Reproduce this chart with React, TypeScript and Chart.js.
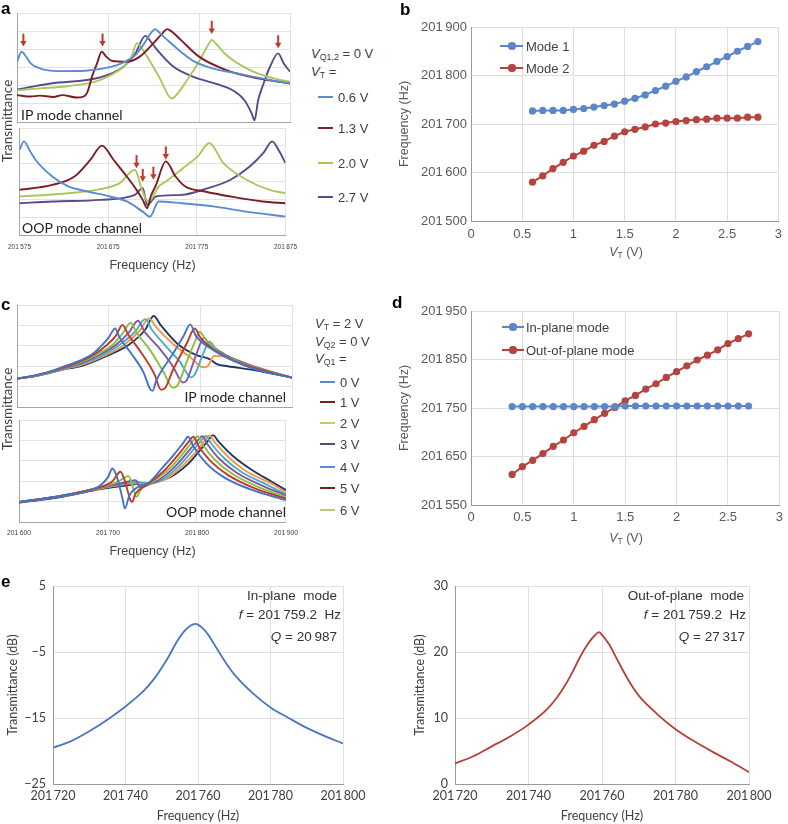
import React, { useEffect, useRef } from "react";
import { Chart, registerables } from "chart.js";

Chart.register(...registerables);

// ---------------- DATA ----------------
// Panel a — IP mode channel, [frequency (Hz), transmittance (a.u.)]
const aIP_06 = [[201575,3.32],[201580,3.87],[201585,3.6],[201590,3.23],[201600,2.95],[201620,2.8],[201650,2.82],[201670,2.95],[201690,3.23],[201705,3.69],[201715,4.34],[201722,4.89],[201727,5.11],[201732,4.89],[201740,4.52],[201755,3.87],[201770,3.32],[201790,2.95],[201820,2.64],[201850,2.34],[201875,2.12]];
const aIP_13 = [[201575,1.48],[201590,1.4],[201600,1.45],[201615,1.38],[201625,1.48],[201640,1.35],[201648,1.4],[201652,1.6],[201658,2.58],[201663,3.23],[201668,3.87],[201673,3.6],[201680,3.36],[201695,3.32],[201710,3.6],[201725,4.34],[201735,4.89],[201740,5.11],[201745,4.98],[201755,4.52],[201775,3.6],[201805,2.86],[201840,2.4],[201875,2.12]];
const aIP_20 = [[201575,1.75],[201600,1.85],[201630,1.97],[201666,2.31],[201692,3.04],[201700,3.51],[201707,4.34],[201712,4.06],[201718,3.6],[201732,2.4],[201745,1.29],[201750,1.48],[201762,2.31],[201776,3.41],[201785,4.24],[201789,4.52],[201795,4.24],[201805,3.69],[201831,2.86],[201857,2.4],[201875,2.21]];
const aIP_27 = [[201575,1.79],[201612,2.12],[201666,2.45],[201692,3.04],[201705,3.78],[201716,4.74],[201722,4.43],[201729,3.97],[201747,3.04],[201769,2.49],[201795,2.08],[201813,1.72],[201825,1.2],[201833,0.46],[201836,0.09],[201840,1.2],[201846,2.12],[201853,3.04],[201862,3.78],[201868,3.23],[201875,2.77]];
// Panel a — OOP mode channel
const aOOP_06 = [[201575,4.78],[201580,5.25],[201587,4.69],[201593,4.22],[201612,3.28],[201630,2.72],[201652,2.44],[201677,2.16],[201696,1.88],[201714,1.31],[201722,1.03],[201732,1.88],[201758,1.78],[201795,1.59],[201831,1.31],[201875,1.03]];
const aOOP_13 = [[201575,2.53],[201612,2.81],[201637,3.28],[201655,4.22],[201668,5.01],[201681,4.22],[201696,3.28],[201707,2.53],[201714,1.97],[201719,1.5],[201723,2.16],[201729,2.81],[201740,4.13],[201751,3.28],[201762,2.72],[201784,2.44],[201813,2.16],[201849,1.88],[201875,1.78]];
const aOOP_20 = [[201575,2.16],[201630,2.34],[201666,2.57],[201688,2.91],[201705,3.66],[201712,2.72],[201718,1.97],[201721,1.88],[201732,2.72],[201740,3.0],[201762,3.85],[201776,4.41],[201789,5.16],[201805,4.03],[201831,3.1],[201857,2.53],[201875,2.34]];
const aOOP_27 = [[201575,1.78],[201612,1.88],[201666,1.97],[201705,2.25],[201714,2.63],[201719,1.69],[201729,2.16],[201758,2.25],[201784,2.57],[201813,3.1],[201835,3.85],[201850,4.6],[201860,5.25],[201868,4.69],[201875,4.03]];
const aArrowsIP = [[201582,4.15],[201669,4.15],[201789,4.85],[201862,4.06]];
const aArrowsOOP = [[201707,3.75],[201714,2.98],[201726,3.1],[201740,4.24]];
const aXTicks = [201575, 201675, 201775, 201875];
const aLegend = ["0.6 V", "1.3 V", "2.0 V", "2.7 V"];

// Panel b
const bVT = [0.6,0.7,0.8,0.9,1.0,1.1,1.2,1.3,1.4,1.5,1.6,1.7,1.8,1.9,2.0,2.1,2.2,2.3,2.4,2.5,2.6,2.7,2.8];
const bMode1 = [201727,201728,201728,201728,201730,201732,201735,201738,201741,201747,201753,201760,201769,201778,201788,201797,201808,201818,201829,201839,201850,201860,201870];
const bMode2 = [201580,201593,201608,201621,201634,201644,201656,201664,201675,201684,201689,201694,201700,201702,201705,201707,201709,201710,201712,201712,201712,201714,201714];
const bXTicks = [0,0.5,1,1.5,2,2.5,3];
const bYTicks = [201500,201600,201700,201800,201900];

// Panel c — IP mode channel
const cIP_0 = [[201600,1.39],[201620,1.55],[201640,1.8],[201655,2.05],[201670,2.3],[201683,2.62],[201692,3.0],[201700,3.4],[201707,3.85],[201712,3.4],[201725,2.6],[201738,1.7],[201745,0.9],[201748,0.8],[201752,1.3],[201770,2.6],[201782,3.5],[201789,4.05],[201795,3.5],[201810,2.9],[201830,2.4],[201860,1.85],[201900,1.44]];
const cIP_1 = [[201600,1.39],[201620,1.55],[201640,1.78],[201655,2.0],[201670,2.25],[201685,2.6],[201697,3.0],[201708,3.5],[201715,4.02],[201722,3.5],[201735,2.7],[201750,1.6],[201757,0.85],[201761,0.9],[201770,1.8],[201785,3.1],[201794,3.85],[201800,3.4],[201815,2.8],[201835,2.3],[201860,1.9],[201900,1.44]];
const cIP_2 = [[201600,1.39],[201620,1.54],[201640,1.76],[201655,1.98],[201670,2.2],[201688,2.6],[201703,3.0],[201715,3.6],[201724,4.13],[201731,3.6],[201745,2.8],[201760,1.7],[201770,0.95],[201774,1.0],[201785,2.2],[201795,3.3],[201799,3.69],[201806,3.3],[201820,2.7],[201840,2.25],[201865,1.85],[201900,1.44]];
const cIP_3 = [[201600,1.39],[201620,1.53],[201640,1.75],[201655,1.95],[201670,2.15],[201690,2.55],[201708,3.05],[201722,3.65],[201732,4.23],[201739,3.7],[201755,2.9],[201770,2.0],[201781,1.2],[201785,1.3],[201795,2.5],[201804,3.39],[201810,3.05],[201825,2.6],[201845,2.2],[201870,1.8],[201900,1.44]];
const cIP_4 = [[201600,1.39],[201620,1.53],[201640,1.74],[201655,1.92],[201670,2.1],[201692,2.5],[201712,3.05],[201729,3.7],[201740,4.31],[201747,3.8],[201762,3.0],[201778,2.2],[201790,1.45],[201794,1.6],[201803,2.6],[201810,3.2],[201816,2.9],[201830,2.5],[201850,2.1],[201875,1.75],[201900,1.44]];
const cIP_5 = [[201600,1.39],[201620,1.52],[201640,1.73],[201655,1.9],[201670,2.05],[201695,2.5],[201717,3.05],[201734,3.75],[201744,4.34],[201752,3.9],[201770,3.1],[201790,2.4],[201803,1.95],[201808,2.0],[201815,2.5],[201830,2.45],[201855,2.05],[201880,1.7],[201900,1.44]];
const cIP_6 = [[201600,1.39],[201620,1.52],[201640,1.72],[201655,1.88],[201670,2.0],[201698,2.5],[201722,3.05],[201740,3.8],[201749,4.46],[201757,4.0],[201775,3.1],[201795,2.55],[201810,2.35],[201818,2.1],[201830,2.0],[201860,1.8],[201900,1.44]];
// Panel c — OOP mode channel
const cOOP_0 = [[201600,0.98],[201650,1.3],[201690,1.75],[201700,2.2],[201705,2.62],[201710,2.2],[201716,1.2],[201719,0.66],[201724,1.3],[201735,1.75],[201745,1.9],[201760,2.6],[201775,3.35],[201785,3.9],[201790,4.18],[201796,3.7],[201810,2.9],[201830,2.2],[201860,1.6],[201900,1.07]];
const cOOP_1 = [[201600,0.98],[201650,1.3],[201690,1.7],[201705,2.0],[201714,2.46],[201719,2.0],[201725,1.1],[201727,0.98],[201731,1.4],[201745,1.85],[201765,2.6],[201780,3.35],[201790,3.9],[201796,4.18],[201802,3.7],[201815,3.0],[201835,2.3],[201865,1.65],[201900,1.15]];
const cOOP_2 = [[201600,0.98],[201650,1.3],[201690,1.7],[201710,1.95],[201723,2.25],[201728,1.7],[201732,1.23],[201737,1.6],[201750,1.95],[201770,2.65],[201785,3.4],[201795,3.95],[201801,4.2],[201807,3.75],[201820,3.05],[201840,2.35],[201870,1.7],[201900,1.2]];
const cOOP_3 = [[201600,0.98],[201650,1.3],[201690,1.68],[201715,1.9],[201731,2.05],[201736,1.7],[201740,1.75],[201755,2.0],[201775,2.7],[201790,3.45],[201800,3.95],[201806,4.2],[201812,3.8],[201825,3.1],[201845,2.4],[201875,1.75],[201900,1.3]];
const cOOP_4 = [[201600,0.98],[201650,1.3],[201690,1.66],[201720,1.9],[201735,1.95],[201745,1.9],[201760,2.05],[201780,2.75],[201795,3.5],[201804,3.95],[201810,4.22],[201816,3.85],[201830,3.15],[201850,2.45],[201880,1.8],[201900,1.35]];
const cOOP_5 = [[201600,0.98],[201650,1.28],[201690,1.63],[201725,1.88],[201738,1.9],[201750,1.92],[201765,2.1],[201785,2.8],[201800,3.5],[201808,3.95],[201814,4.24],[201820,3.9],[201835,3.2],[201855,2.5],[201885,1.85],[201900,1.45]];
const cOOP_6 = [[201600,0.95],[201650,1.25],[201690,1.6],[201730,1.85],[201750,1.95],[201770,2.2],[201790,2.85],[201804,3.55],[201812,3.95],[201818,4.26],[201824,3.95],[201840,3.25],[201860,2.6],[201885,1.95],[201900,1.56]];
const cXTicks = [201600, 201700, 201800, 201900];
const cLegend = ["0 V", "1 V", "2 V", "3 V", "4 V", "5 V", "6 V"];

// Panel d
const dVT = [0.4,0.5,0.6,0.7,0.8,0.9,1.0,1.1,1.2,1.3,1.4,1.5,1.6,1.7,1.8,1.9,2.0,2.1,2.2,2.3,2.4,2.5,2.6,2.7];
const dInPlane = [201753,201753,201753,201753,201753,201753,201753,201753,201753,201753,201753,201754,201754,201754,201754,201754,201754,201754,201754,201754,201754,201754,201754,201754];
const dOutPlane = [201613,201629,201642,201656,201671,201684,201699,201712,201726,201739,201751,201765,201776,201789,201800,201813,201825,201837,201849,201859,201870,201883,201893,201903];
const dXTicks = [0,0.5,1,1.5,2,2.5,3];
const dYTicks = [201550,201650,201750,201850,201950];

// Panel e
const eFreq = [201720,201725,201730,201735,201740,201745,201748,201750,201752,201754,201756,201758,201759.2,201760,201762,201764,201766,201768,201770,201775,201780,201785,201790,201795,201800];
const eInPlane = [-19.5,-18.5,-17.0,-15.25,-13.25,-10.9,-9.0,-7.4,-5.6,-3.6,-2.0,-1.0,-0.75,-0.85,-1.8,-3.4,-5.2,-6.9,-8.4,-11.2,-13.4,-15.0,-16.5,-17.75,-18.85];
const eOutPlane = [3.1,4.2,5.7,7.2,9.0,11.3,13.3,15.0,17.0,19.2,21.1,22.5,23.0,22.6,21.1,19.0,16.9,15.0,13.4,10.6,8.3,6.5,4.9,3.4,1.8];
const eXTicks = [201720,201740,201760,201780,201800];
const eLeftYTicks = [-25,-15,-5,5];
const eRightYTicks = [0,10,20,30];

// ---------------- STYLE ----------------
const ARIAL = "'Liberation Sans', Arial, sans-serif";
const LATO = "Lato, 'Open Sans', sans-serif";
const GRID = "#e3e3e3";
const AXIS = "#a6a6a6";
const ARROW = "#c0392b";
const TXT = "#404040";
const A_COLORS = ["#5b8bd0", "#7b1f24", "#a9c85c", "#5a4a8c"];
const C_COLORS = ["#4472c4", "#c0392b", "#8cbf3f", "#7e57a7", "#4bacc6", "#f79646", "#1f3864"];
const C_LEG = ["#5b8bd0", "#7b1f24", "#b7cf7a", "#5a4a7c", "#5b8bd0", "#7b1f24", "#b7cf7a"];
const BLUE = "#5b86c8";
const RED = "#b5443f";

const fmtHz = (v: number) => {
  const s = String(Math.round(v));
  return s.slice(0, 3) + "\u2009" + s.slice(3);
};
const fmtMinus = (v: number) => (v < 0 ? "\u2212" + Math.abs(v) : String(v));

const arrowPlugin = {
  id: "arrows",
  afterDatasetsDraw(chart: any, _args: any, opts: any) {
    const pts: number[][] = (opts && opts.points) || [];
    const { ctx } = chart;
    const xs = chart.scales.x, ys = chart.scales.y;
    ctx.save();
    ctx.strokeStyle = ARROW;
    ctx.fillStyle = ARROW;
    ctx.lineWidth = 2;
    for (const [fx, fy] of pts) {
      const px = xs.getPixelForValue(fx);
      const py = ys.getPixelForValue(fy);
      ctx.beginPath();
      ctx.moveTo(px, py - 13);
      ctx.lineTo(px, py - 4);
      ctx.stroke();
      ctx.beginPath();
      ctx.moveTo(px - 3.2, py - 5.5);
      ctx.lineTo(px + 3.2, py - 5.5);
      ctx.lineTo(px, py);
      ctx.closePath();
      ctx.fill();
    }
    ctx.restore();
  },
};

function spectrum(o: {
  series: { data: number[][]; color: string }[];
  xTicks: number[];
  ymax: number;
  pad: any;
  yW: number;
  xH: number;
  showTicks?: boolean;
  tickSize?: number;
  tickPad?: number;
  title?: string;
  arrows?: number[][];
}): any {
  return {
    type: "line",
    data: {
      datasets: o.series.map((s) => ({
        data: s.data.map(([x, y]) => ({ x, y })),
        borderColor: s.color,
        backgroundColor: s.color,
        borderWidth: 1.9,
        pointRadius: 0,
        cubicInterpolationMode: "monotone",
        fill: false,
      })),
    },
    plugins: [arrowPlugin],
    options: {
      responsive: false,
      animation: false,
      events: [],
      layout: { padding: o.pad },
      plugins: {
        legend: { display: false },
        tooltip: { enabled: false },
        arrows: { points: o.arrows || [] },
      },
      scales: {
        x: {
          type: "linear",
          min: o.xTicks[0],
          max: o.xTicks[o.xTicks.length - 1],
          afterBuildTicks: (s: any) => {
            s.ticks = o.xTicks.map((v) => ({ value: v }));
          },
          afterFit: (s: any) => {
            s.height = o.xH;
          },
          grid: { color: GRID, drawTicks: false },
          border: { color: AXIS },
          ticks: {
            display: !!o.showTicks,
            padding: o.tickPad ?? 0,
            autoSkip: false,
            maxRotation: 0,
            color: TXT,
            font: { family: ARIAL, size: o.tickSize ?? 6 },
            callback: (v: any) => fmtHz(v),
          },
          title: {
            display: !!o.title,
            text: o.title || "",
            color: TXT,
            font: { family: ARIAL, size: 12.5 },
            padding: 0,
          },
        },
        y: {
          min: 0,
          max: o.ymax,
          afterFit: (s: any) => {
            s.width = o.yW;
          },
          ticks: { display: false, stepSize: 1 },
          grid: { color: GRID, drawTicks: false },
          border: { color: AXIS },
        },
      },
    },
  };
}

function vtChart(o: {
  vt: number[];
  series: { data: number[]; color: string }[];
  xTicks: number[];
  yTicks: number[];
  pad: any;
  xH: number;
  xPad: number;
}): any {
  return {
    type: "line",
    data: {
      datasets: o.series.map((s) => ({
        data: o.vt.map((v, i) => ({ x: v, y: s.data[i] })),
        borderColor: s.color,
        backgroundColor: s.color,
        borderWidth: 2,
        pointRadius: 3.6,
        pointBorderWidth: 0,
        pointBackgroundColor: s.color,
        tension: 0,
      })),
    },
    options: {
      responsive: false,
      animation: false,
      events: [],
      layout: { padding: o.pad },
      plugins: { legend: { display: false }, tooltip: { enabled: false } },
      scales: {
        x: {
          type: "linear",
          min: o.xTicks[0],
          max: o.xTicks[o.xTicks.length - 1],
          afterBuildTicks: (s: any) => {
            s.ticks = o.xTicks.map((v) => ({ value: v }));
          },
          afterFit: (s: any) => {
            s.height = o.xH;
          },
          grid: { color: "#dedede", drawTicks: false },
          border: { color: "#9a9a9a" },
          ticks: {
            padding: o.xPad,
            autoSkip: false,
            maxRotation: 0,
            color: "#595959",
            font: { family: ARIAL, size: 13 },
            callback: (v: any) => String(v),
          },
        },
        y: {
          min: o.yTicks[0],
          max: o.yTicks[o.yTicks.length - 1],
          afterBuildTicks: (s: any) => {
            s.ticks = o.yTicks.map((v) => ({ value: v }));
          },
          afterFit: (s: any) => {
            s.width = 74;
          },
          grid: { color: "#dedede", drawTicks: false },
          border: { color: "#9a9a9a" },
          ticks: {
            padding: 4,
            color: "#595959",
            font: { family: ARIAL, size: 13 },
            callback: (v: any) => fmtHz(v),
          },
          title: {
            display: true,
            text: "Frequency (Hz)",
            color: "#595959",
            font: { family: ARIAL, size: 12.5 },
            padding: 0,
          },
        },
      },
    },
  };
}

function eChart(o: {
  values: number[];
  color: string;
  yTicks: number[];
  pad: any;
  yW: number;
  yTitlePad: number;
}): any {
  return {
    type: "line",
    data: {
      datasets: [
        {
          data: eFreq.map((f, i) => ({ x: f, y: o.values[i] })),
          borderColor: o.color,
          borderWidth: 1.8,
          pointRadius: 0,
          cubicInterpolationMode: "monotone",
          fill: false,
        },
      ],
    },
    options: {
      responsive: false,
      animation: false,
      events: [],
      layout: { padding: o.pad },
      plugins: { legend: { display: false }, tooltip: { enabled: false } },
      scales: {
        x: {
          type: "linear",
          min: eXTicks[0],
          max: eXTicks[eXTicks.length - 1],
          afterBuildTicks: (s: any) => {
            s.ticks = eXTicks.map((v) => ({ value: v }));
          },
          afterFit: (s: any) => {
            s.height = 39;
          },
          grid: { color: "#e0e0e0", drawTicks: false },
          border: { color: "#9a9a9a" },
          ticks: {
            padding: 4,
            autoSkip: false,
            maxRotation: 0,
            color: "#404040",
            font: { family: LATO, size: 12.5 },
            callback: (v: any) => fmtHz(v),
          },
          title: {
            display: true,
            text: "Frequency (Hz)",
            color: "#404040",
            font: { family: LATO, size: 12.5 },
            padding: 0,
          },
        },
        y: {
          min: o.yTicks[0],
          max: o.yTicks[o.yTicks.length - 1],
          afterBuildTicks: (s: any) => {
            s.ticks = o.yTicks.map((v) => ({ value: v }));
          },
          afterFit: (s: any) => {
            s.width = o.yW;
          },
          grid: { color: "#e0e0e0", drawTicks: false },
          border: { color: "#9a9a9a" },
          ticks: {
            padding: 7,
            color: "#404040",
            font: { family: LATO, size: 12.5 },
            callback: (v: any) => fmtMinus(v),
          },
          title: {
            display: true,
            text: "Transmittance (dB)",
            color: "#404040",
            font: { family: LATO, size: 12.5 },
            padding: { top: o.yTitlePad, bottom: 0 },
          },
        },
      },
    },
  };
}

// ---------------- COMPONENTS ----------------
function ChartBox(props: { left: number; top: number; width: number; height: number; make: () => any }) {
  const ref = useRef<HTMLCanvasElement | null>(null);
  useEffect(() => {
    if (!ref.current) return;
    const chart = new Chart(ref.current, props.make());
    return () => chart.destroy();
  }, []);
  return (
    <canvas
      ref={ref}
      width={props.width}
      height={props.height}
      style={{ position: "absolute", left: props.left, top: props.top, width: props.width, height: props.height }}
    />
  );
}

function T(props: {
  x: number;
  y: number;
  children: any;
  align?: "left" | "right" | "center";
  size?: number;
  family?: string;
  color?: string;
  weight?: number;
  rotate?: boolean;
}) {
  const align = props.align || "left";
  const tx = props.rotate ? "-50%" : align === "left" ? "0" : align === "right" ? "-100%" : "-50%";
  return (
    <div
      style={{
        position: "absolute",
        left: props.x,
        top: props.y,
        transform: `translate(${tx}, -50%)${props.rotate ? " rotate(-90deg)" : ""}`,
        whiteSpace: "nowrap",
        lineHeight: 1,
        fontSize: props.size || 13,
        fontFamily: props.family || ARIAL,
        color: props.color || TXT,
        fontWeight: props.weight || 400,
      }}
    >
      {props.children}
    </div>
  );
}

const Sub = ({ children }: { children: any }) => (
  <sub style={{ fontSize: "0.68em", verticalAlign: "-0.28em", lineHeight: 0 }}>{children}</sub>
);

function LineKey(props: { x1: number; x2: number; y: number; color: string; dot?: number }) {
  return (
    <>
      <div
        style={{
          position: "absolute",
          left: props.x1,
          top: props.y - 1,
          width: props.x2 - props.x1,
          height: 2,
          background: props.color,
        }}
      />
      {props.dot !== undefined && (
        <div
          style={{
            position: "absolute",
            left: props.dot - 3.6,
            top: props.y - 3.6,
            width: 7.2,
            height: 7.2,
            borderRadius: "50%",
            background: props.color,
          }}
        />
      )}
    </>
  );
}

export default function App() {
  const aIPSeries = [aIP_06, aIP_13, aIP_20, aIP_27].map((d, i) => ({ data: d, color: A_COLORS[i] }));
  const aOOPSeries = [aOOP_06, aOOP_13, aOOP_20, aOOP_27].map((d, i) => ({ data: d, color: A_COLORS[i] }));
  const cIPSeries = [cIP_0, cIP_1, cIP_2, cIP_3, cIP_4, cIP_5, cIP_6].map((d, i) => ({ data: d, color: C_COLORS[i] }));
  const cOOPSeries = [cOOP_0, cOOP_1, cOOP_2, cOOP_3, cOOP_4, cOOP_5, cOOP_6].map((d, i) => ({ data: d, color: C_COLORS[i] }));
  const aLegY = [97, 128, 163, 197];
  const cLegY = [382, 402, 423, 444, 467, 488, 510];

  return (
    <div style={{ position: "absolute", left: 0, top: 0, width: 788, height: 824, background: "#fff", overflow: "hidden" }}>
      {/* Panel a */}
      <ChartBox left={0} top={0} width={300} height={130}
        make={() => spectrum({ series: aIPSeries, xTicks: aXTicks, ymax: 6, pad: { top: 13, right: 10, left: 0, bottom: 0 }, yW: 17, xH: 8, arrows: aArrowsIP })} />
      <ChartBox left={0} top={120} width={305} height={153}
        make={() => spectrum({ series: aOOPSeries, xTicks: aXTicks, ymax: 6, pad: { top: 8, right: 15, left: 0, bottom: 0 }, yW: 17, xH: 38, showTicks: true, tickSize: 6.5, tickPad: 8, title: "Frequency (Hz)", arrows: aArrowsOOP })} />

      {/* Panel b */}
      <ChartBox left={397} top={0} width={391} height={290}
        make={() => vtChart({ vt: bVT, series: [{ data: bMode1, color: BLUE }, { data: bMode2, color: RED }], xTicks: bXTicks, yTicks: bYTicks, pad: { top: 27, right: 7, left: 0, bottom: 0 }, xH: 69, xPad: 6 })} />

      {/* Panel c */}
      <ChartBox left={0} top={295} width={300} height={120}
        make={() => spectrum({ series: cIPSeries, xTicks: cXTicks, ymax: 5, pad: { top: 10, right: 8, left: 0, bottom: 0 }, yW: 17, xH: 8 })} />
      <ChartBox left={0} top={412} width={305} height={147}
        make={() => spectrum({ series: cOOPSeries, xTicks: cXTicks, ymax: 5, pad: { top: 8, right: 13, left: 0, bottom: 0 }, yW: 17, xH: 37, showTicks: true, tickSize: 6.8, tickPad: 7, title: "Frequency (Hz)" })} />

      {/* Panel d */}
      <ChartBox left={397} top={290} width={391} height={270}
        make={() => vtChart({ vt: dVT, series: [{ data: dInPlane, color: BLUE }, { data: dOutPlane, color: RED }], xTicks: dXTicks, yTicks: dYTicks, pad: { top: 21, right: 7, left: 0, bottom: 0 }, xH: 55, xPad: 5 })} />

      {/* Panel e */}
      <ChartBox left={0} top={570} width={394} height={254}
        make={() => eChart({ values: eInPlane, color: "#4a76c0", yTicks: eLeftYTicks, pad: { top: 16, right: 51, left: 0, bottom: 1 }, yW: 53, yTitlePad: 5 })} />
      <ChartBox left={394} top={570} width={394} height={254}
        make={() => eChart({ values: eOutPlane, color: "#b3413b", yTicks: eRightYTicks, pad: { top: 16, right: 39, left: 0, bottom: 1 }, yW: 61, yTitlePad: 18 })} />

      {/* Panel letters */}
      <T x={1} y={7.5} size={17} weight={700} color="#000">a</T>
      <T x={400} y={9} size={17} weight={700} color="#000">b</T>
      <T x={1} y={304} size={17} weight={700} color="#000">c</T>
      <T x={392} y={302} size={17} weight={700} color="#000">d</T>
      <T x={1} y={581} size={17} weight={700} color="#000">e</T>

      {/* Panel a texts */}
      <T x={8} y={121} rotate size={13.5} family={LATO}>Transmittance</T>
      <T x={21} y={115} size={14} family={LATO} color="#222">IP mode channel</T>
      <T x={22} y={228} size={14} family={LATO} color="#222">OOP mode channel</T>
      <T x={311} y={53} size={13}><i>V</i><Sub>Q1,2</Sub> = 0 V</T>
      <T x={311} y={71} size={13}><i>V</i><Sub>T</Sub> =</T>
      {aLegend.map((l, i) => (
        <React.Fragment key={"al" + i}>
          <LineKey x1={318} x2={333} y={aLegY[i]} color={A_COLORS[i]} />
          <T x={338} y={aLegY[i]} size={13}>{l}</T>
        </React.Fragment>
      ))}

      {/* Panel b texts */}
      <LineKey x1={500} x2={523} y={46} color={BLUE} dot={512} />
      <T x={526} y={46} size={13} color="#404040">Mode 1</T>
      <LineKey x1={500} x2={523} y={68} color={RED} dot={512} />
      <T x={526} y={68} size={13} color="#404040">Mode 2</T>
      <T x={626} y={252} align="center" size={12.5} color="#595959"><i>V</i><Sub>T</Sub> (V)</T>

      {/* Panel c texts */}
      <T x={8} y={409} rotate size={13.5} family={LATO}>Transmittance</T>
      <T x={286} y={397} align="right" size={14} family={LATO} color="#222">IP mode channel</T>
      <T x={286} y={512} align="right" size={14} family={LATO} color="#222">OOP mode channel</T>
      <T x={315} y={323} size={13}><i>V</i><Sub>T</Sub> = 2 V</T>
      <T x={315} y={341} size={13}><i>V</i><Sub>Q2</Sub> = 0 V</T>
      <T x={315} y={358} size={13}><i>V</i><Sub>Q1</Sub> =</T>
      {cLegend.map((l, i) => (
        <React.Fragment key={"cl" + i}>
          <LineKey x1={320} x2={335} y={cLegY[i]} color={C_LEG[i]} />
          <T x={340} y={cLegY[i]} size={13}>{l}</T>
        </React.Fragment>
      ))}

      {/* Panel d texts */}
      <LineKey x1={502} x2={524} y={327} color={BLUE} dot={513} />
      <T x={526} y={327} size={13} color="#404040">In-plane mode</T>
      <LineKey x1={502} x2={524} y={350} color={RED} dot={513} />
      <T x={526} y={350} size={13} color="#404040">Out-of-plane mode</T>
      <T x={626} y={538} align="center" size={12.5} color="#595959"><i>V</i><Sub>T</Sub> (V)</T>

      {/* Panel e annotations */}
      <T x={337} y={596} align="right" size={13.5} color="#333">In-plane&nbsp; mode</T>
      <T x={341} y={615} align="right" size={13.5} color="#333"><i>f</i> = 201&#8201;759.2&nbsp; Hz</T>
      <T x={337} y={637} align="right" size={13.5} color="#333"><i>Q</i> = 20&#8201;987</T>
      <T x={744} y={596} align="right" size={13.5} color="#333">Out-of-plane&nbsp; mode</T>
      <T x={746} y={615} align="right" size={13.5} color="#333"><i>f</i> = 201&#8201;759.2&nbsp; Hz</T>
      <T x={745} y={637} align="right" size={13.5} color="#333"><i>Q</i> = 27&#8201;317</T>
    </div>
  );
}
